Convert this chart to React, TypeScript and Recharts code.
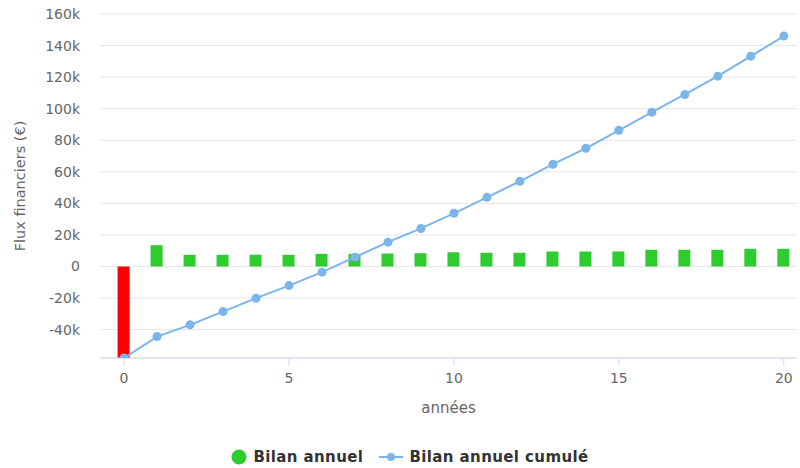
import React from 'react'
import { ComposedChart, Bar, Line, XAxis, YAxis, CartesianGrid, Cell } from 'recharts'

const years = [0, 1, 2, 3, 4, 5, 6, 7, 8, 9, 10, 11, 12, 13, 14, 15, 16, 17, 18, 19, 20]
const annual = [-58000, 13500, 7400, 7400, 7400, 7400, 8000, 8000, 8200, 8400, 9000, 8700, 8700, 9500, 9500, 9500, 10600, 10600, 10600, 11200, 11200]
const cumulative = [-58000, -44400, -37000, -28600, -20100, -12100, -3600, 5900, 15400, 24100, 33700, 43800, 54000, 64800, 74900, 86300, 97800, 109000, 120600, 133300, 146000]
const yTicks = [-40000, -20000, 0, 20000, 40000, 60000, 80000, 100000, 120000, 140000, 160000]
const xTicks = [0, 5, 10, 15, 20]

const data = years.map((y, i) => ({ year: y, annual: annual[i], cumul: cumulative[i] }))

const GREEN = '#2ecc2e'
const RED = '#ff0000'
const BLUE = '#7cb5ec'
const FONT = '"DejaVu Sans", Verdana, sans-serif'

const fmt = (v: number) => (v === 0 ? '0' : `${v / 1000}k`)

export default function App() {
  return (
    <div style={{ position: 'absolute', left: 0, top: 0, width: 800, height: 468, background: '#fff', fontFamily: FONT }}>
      <ComposedChart width={800} height={468} data={data} margin={{ top: 14, right: 3, bottom: 60, left: 0 }}>
        <CartesianGrid vertical={false} stroke="#e6e6e6" />
        <XAxis
          dataKey="year"
          type="number"
          domain={[-0.73, 20.4]}
          allowDataOverflow
          ticks={xTicks}
          height={50}
          stroke="#ccd6eb"
          tickSize={8}
          tick={{ fill: '#666', fontSize: 14, fontFamily: FONT, dy: 5 }}
          label={{ value: 'années', position: 'insideTop', offset: 44, fill: '#666', fontSize: 15, fontFamily: FONT }}
        />
        <YAxis
          type="number"
          domain={[-58000, 160000]}
          allowDataOverflow
          ticks={yTicks}
          tickFormatter={fmt}
          width={100}
          axisLine={false}
          tickLine={false}
          tick={{ fill: '#666', fontSize: 14, fontFamily: FONT, dx: -12 }}
          label={{ value: 'Flux financiers (€)', angle: -90, position: 'insideLeft', offset: 20, fill: '#666', fontSize: 14.5, fontFamily: FONT, style: { textAnchor: 'middle' } }}
        />
        <Bar dataKey="annual" barSize={12} isAnimationActive={false}>
          {data.map((d, i) => (
            <Cell key={i} fill={d.annual < 0 ? RED : GREEN} />
          ))}
        </Bar>
        <Line
          dataKey="cumul"
          stroke={BLUE}
          strokeWidth={2}
          dot={{ r: 4.5, fill: BLUE, stroke: BLUE, strokeWidth: 0 }}
          isAnimationActive={false}
        />
      </ComposedChart>
      <div style={{ position: 'absolute', top: 448, left: 0, width: 800, display: 'flex', justifyContent: 'center', alignItems: 'center', fontSize: 15, fontWeight: 'bold', color: '#333', letterSpacing: 0.4, marginLeft: 10 }}>
        <svg width={16} height={16} style={{ marginRight: 6 }}>
          <circle cx={8} cy={8} r={7.5} fill={GREEN} />
        </svg>
        <span style={{ marginRight: 16 }}>Bilan annuel</span>
        <svg width={24} height={14} style={{ marginRight: 6 }}>
          <line x1={0} y1={7} x2={24} y2={7} stroke={BLUE} strokeWidth={2} />
          <circle cx={12} cy={7} r={4} fill={BLUE} />
        </svg>
        <span>Bilan annuel cumulé</span>
      </div>
    </div>
  )
}
